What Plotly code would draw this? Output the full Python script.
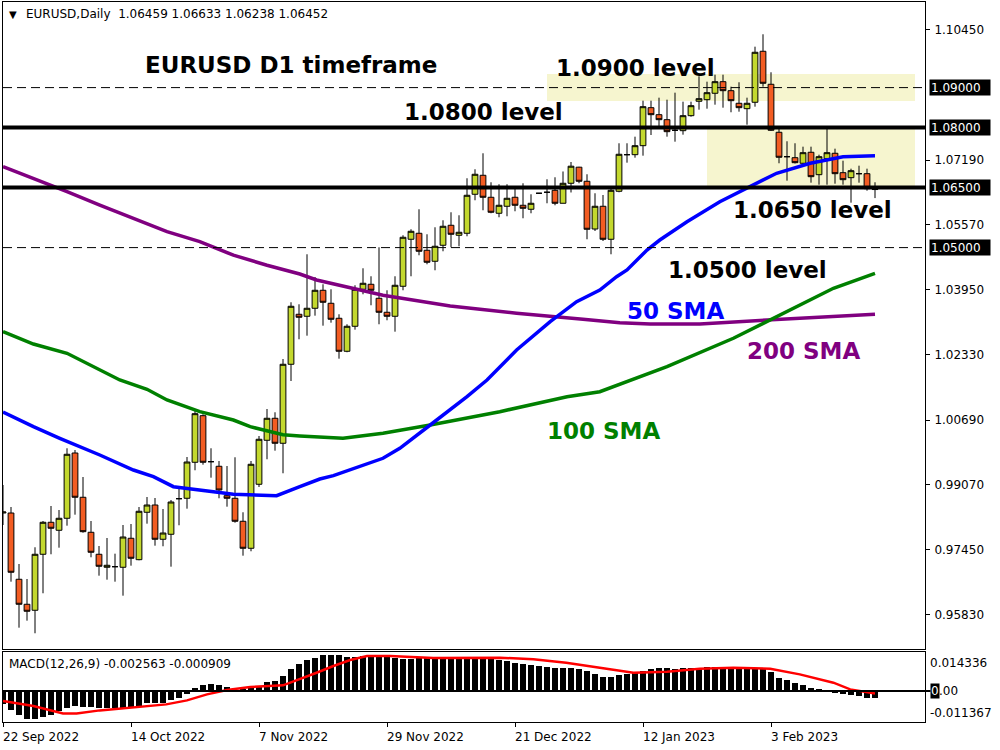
import plotly.graph_objects as go

# ---------------- data ----------------
tick_labels = ["22 Sep 2022", "14 Oct 2022", "7 Nov 2022", "29 Nov 2022",
               "21 Dec 2022", "12 Jan 2023", "3 Feb 2023"]
tick_bars = [0, 16, 32, 48, 64, 80, 96]
bars = list(range(110))

opens = [0.98365, 0.98365, 0.96708, 0.96083, 0.95933, 0.97333, 0.98133, 0.97933, 0.98233, 0.99865,
         0.98758, 0.97883, 0.97333, 0.97008, 0.97023, 0.97008, 0.97733, 0.97198, 0.98383, 0.98565,
         0.97708, 0.97833, 0.98723, 0.98733, 0.99633, 1.00798, 0.99648, 0.99533, 0.98798, 0.98733,
         0.98158, 0.97483, 0.99083, 1.00183, 1.00733, 1.00108, 1.02083, 1.03333, 1.03283, 1.03483,
         1.03933, 1.03608, 1.03233, 1.02408, 1.03033, 1.03958, 1.04083, 1.03733, 1.03383, 1.03283,
         1.04033, 1.05208, 1.05358, 1.04933, 1.04658, 1.05058, 1.05558, 1.05308, 1.05358, 1.06333,
         1.06808, 1.06258, 1.05858, 1.06033, 1.06258, 1.06058, 1.05958, 1.06358, 1.06383, 1.06433,
         1.06108, 1.06608, 1.07010, 1.06658, 1.05465, 1.06033, 1.05208, 1.06408, 1.07323, 1.07323,
         1.07548, 1.08498, 1.08323, 1.08198, 1.07933, 1.07923, 1.08298, 1.08658, 1.08698, 1.08858,
         1.09148, 1.08923, 1.08608, 1.08473, 1.08633, 1.09908, 1.09083, 1.07883, 1.07273, 1.07248,
         1.07108, 1.07383, 1.06823, 1.07223, 1.07358, 1.06873, 1.06748, 1.06848, 1.06848, 1.06459]
highs = [0.99065, 0.98515, 0.97090, 0.96715, 0.97508, 0.98165, 0.98540, 0.98440, 0.99983, 0.99940,
         0.99265, 0.98165, 0.97540, 0.97740, 0.97348, 0.98065, 0.98090, 0.98515, 0.98765, 0.98740,
         0.98465, 0.98690, 0.99015, 0.99765, 1.00940, 1.00833, 0.99983, 0.99665, 0.99540, 0.99758,
         0.98383, 0.99665, 1.00290, 1.00965, 1.00883, 1.02215, 1.03633, 1.03583, 1.04833, 1.04265,
         1.04083, 1.03958, 1.03333, 1.03083, 1.04058, 1.04483, 1.04283, 1.05008, 1.03933, 1.04283,
         1.05308, 1.05458, 1.05958, 1.05333, 1.05508, 1.05683, 1.05883, 1.05808, 1.06733, 1.06958,
         1.07358, 1.06633, 1.06583, 1.06583, 1.06508, 1.06608, 1.06333, 1.06365, 1.06708, 1.06758,
         1.06903, 1.07140, 1.07020, 1.06833, 1.06358, 1.06315, 1.06465, 1.07608, 1.07608, 1.07773,
         1.08673, 1.08673, 1.08748, 1.08698, 1.08873, 1.08648, 1.08648, 1.09283, 1.09148, 1.09323,
         1.09323, 1.09023, 1.09133, 1.08748, 1.10023, 1.10333, 1.09383, 1.07983, 1.07658, 1.07608,
         1.07523, 1.07523, 1.07323, 1.07983, 1.07473, 1.07173, 1.06973, 1.07048, 1.06973, 1.06633]
lows = [0.98065, 0.96648, 0.95498, 0.95673, 0.95358, 0.96358, 0.97333, 0.97498, 0.98048, 0.98323,
        0.97873, 0.97258, 0.96798, 0.96698, 0.96648, 0.96298, 0.97048, 0.97183, 0.98098, 0.97548,
        0.97533, 0.97023, 0.98058, 0.98473, 0.99433, 0.99573, 0.99248, 0.98733, 0.98523, 0.98123,
        0.97298, 0.97408, 0.99015, 0.99708, 0.99923, 0.99358, 1.01665, 1.02708, 1.02798, 1.03298,
        1.03048, 1.03123, 1.02223, 1.02383, 1.02948, 1.03833, 1.03558, 1.03083, 1.03183, 1.02898,
        1.03933, 1.04283, 1.04808, 1.04583, 1.04433, 1.04908, 1.05008, 1.05033, 1.05283, 1.06183,
        1.05933, 1.05858, 1.05758, 1.05783, 1.05908, 1.05733, 1.05858, 1.06350, 1.06108, 1.06058,
        1.06108, 1.06378, 1.06608, 1.05208, 1.05415, 1.05165, 1.04833, 1.06383, 1.07123, 1.07248,
        1.07298, 1.07815, 1.08023, 1.07773, 1.07648, 1.07823, 1.08273, 1.08448, 1.08473, 1.08573,
        1.08498, 1.08383, 1.08398, 1.08073, 1.08523, 1.09023, 1.07915, 1.07108, 1.06673, 1.07103,
        1.07040, 1.06623, 1.06573, 1.06573, 1.06598, 1.06573, 1.06123, 1.06623, 1.06423, 1.06238]
closes = [0.98390, 0.96883, 0.96083, 0.95908, 0.97333, 0.98133, 0.97983, 0.98233, 0.99833, 0.98758,
          0.97898, 0.97383, 0.97033, 0.97058, 0.97023, 0.97765, 0.97233, 0.98408, 0.98565, 0.97708,
          0.97865, 0.98640, 0.98723, 0.99640, 1.00848, 0.99633, 0.99648, 0.98940, 0.98733, 0.98158,
          0.97483, 0.99583, 1.00208, 1.00733, 1.00108, 1.02083, 1.03533, 1.03258, 1.03483, 1.03933,
          1.03633, 1.03208, 1.02408, 1.03033, 1.03958, 1.04108, 1.03933, 1.03383, 1.03283, 1.04058,
          1.05258, 1.05408, 1.04908, 1.04633, 1.05033, 1.05533, 1.05333, 1.05383, 1.06308, 1.06833,
          1.06258, 1.05883, 1.06058, 1.06233, 1.06058, 1.05983, 1.06108, 1.06358, 1.06383, 1.06108,
          1.06608, 1.07035, 1.06658, 1.05458, 1.06033, 1.05208, 1.06433, 1.07333, 1.07323, 1.07548,
          1.08523, 1.08323, 1.08198, 1.07898, 1.07933, 1.08298, 1.08548, 1.08723, 1.08873, 1.09148,
          1.08923, 1.08673, 1.08498, 1.08608, 1.09883, 1.09108, 1.07933, 1.07258, 1.07273, 1.07123,
          1.07373, 1.06773, 1.07273, 1.07373, 1.06848, 1.06698, 1.06923, 1.06848, 1.06473, 1.06452]

sma50_x = [0, 3.8, 7.1, 12.1, 16.3, 18.8, 21.3, 24.6, 28.8, 34.2, 35.9, 37.1, 39.6, 41.3, 47.5, 49.6,
           53.4, 58.0, 60.5, 64.2, 68.4, 71.7, 74.6, 76.7, 78.0, 80.5, 82.1, 85.5, 89.6, 93.8, 96.7,
           100.9, 105.0, 109.0]
sma50_y = [1.0089, 1.00523, 1.00233, 0.99815, 0.9944, 0.99273, 0.99023, 0.9894, 0.98833, 0.98798,
           0.9894, 0.99023, 0.99215, 0.99298, 0.99733, 0.99983, 1.00565, 1.01273, 1.0169, 1.0244,
           1.03148, 1.03648, 1.0394, 1.04273, 1.0444, 1.0494, 1.0519, 1.05648, 1.06148, 1.06565,
           1.06858, 1.07108, 1.07273, 1.07298]

sma100_x = [0, 3.8, 8.0, 12.1, 14.6, 18.0, 20.5, 24.6, 28.8, 30.9, 35.0, 37.1, 39.6, 42.5, 47.5,
            53.4, 62.1, 70.5, 74.6, 78.4, 83.0, 91.3, 95.5, 99.6, 103.8, 109.0]
sma100_y = [1.02898, 1.0259, 1.02358, 1.0194, 1.0169, 1.01458, 1.0119, 1.00898, 1.0069, 1.00523,
            1.0032, 1.0029, 1.00273, 1.00233, 1.00358, 1.00565, 1.00898, 1.01273, 1.01398, 1.0169,
            1.02023, 1.02733, 1.03148, 1.0356, 1.03983, 1.04358]

sma200_x = [0, 3.8, 8.0, 12.1, 16.3, 20.5, 24.6, 28.8, 33.0, 37.1, 39.2, 47.5, 55.9, 64.2, 72.5,
            77.1, 80.9, 87.1, 95.5, 103.8, 109.0]
sma200_y = [1.07023, 1.06733, 1.06398, 1.0606, 1.05733, 1.05398, 1.05148, 1.0481, 1.0456, 1.0434,
            1.0419, 1.0381, 1.0354, 1.03358, 1.03208, 1.03123, 1.0309, 1.0309, 1.0319, 1.0329, 1.03333]

macd_main = [-0.004896, -0.006977, -0.008935, -0.010159, -0.010159, -0.009547, -0.008935, -0.007222, -0.006365, -0.005508,
             -0.005753, -0.005998, -0.006242, -0.006242, -0.006242, -0.00612, -0.00612, -0.005508, -0.004529, -0.004284,
             -0.004284, -0.003305, -0.002448, -0.000979, 0.001224, 0.002081, 0.002448, 0.002203, 0.001591, 0.000367,
             0.000612, 0.001224, 0.001836, 0.003305, 0.003672, 0.005508, 0.007956, 0.009792, 0.011261, 0.01224,
             0.013097, 0.013219, 0.013219, 0.012485, 0.012485, 0.012852, 0.013097, 0.012852, 0.012485, 0.011995,
             0.011873, 0.011873, 0.011995, 0.011995, 0.011995, 0.011995, 0.011995, 0.011995, 0.011873, 0.011873,
             0.011873, 0.011628, 0.011383, 0.011016, 0.010404, 0.009914, 0.009547, 0.00918, 0.008813, 0.008568,
             0.008568, 0.008446, 0.007956, 0.007222, 0.006242, 0.005018, 0.005018, 0.005875, 0.006365, 0.006732,
             0.007466, 0.008201, 0.008568, 0.008323, 0.008201, 0.008323, 0.008568, 0.008568, 0.008813, 0.008935,
             0.008813, 0.008813, 0.008568, 0.008323, 0.008201, 0.008201, 0.007099, 0.004896, 0.003917, 0.002815,
             0.002081, 0.000979, 0.000612, 0.000245, -0.000367, -0.001224, -0.001469, -0.001836, -0.002448, -0.002563]

signal_x = [0, 3.8, 7.5, 9.2, 12.1, 16.3, 20.4, 23.0, 25.5, 28.0, 30.9, 35.0, 37.1, 39.2, 41.3, 43.4,
            45.5, 48.4, 53.8, 58.0, 62.1, 66.3, 70.4, 74.6, 78.8, 83.0, 87.1, 91.3, 95.9, 99.6, 103.8,
            105.9, 107.1, 109.0]
signal_y = [-0.003672, -0.005508, -0.008201, -0.008201, -0.007099, -0.00612, -0.004896, -0.003427,
            -0.001224, 0.000367, 0.001469, 0.002081, 0.004284, 0.006732, 0.00918, 0.011383, 0.012852,
            0.012852, 0.012118, 0.01224, 0.01224, 0.011628, 0.010404, 0.008568, 0.006732, 0.007099,
            0.008201, 0.008568, 0.008201, 0.00612, 0.00306, 0.000612, 0.0, -0.000909]

price_ticks = [1.1045, 1.0719, 1.0557, 1.0395, 1.0233, 1.0069, 0.9907, 0.9745, 0.9583]
key_levels = [1.09, 1.08, 1.065, 1.05]
header_ohlc = ["1.06459", "1.06633", "1.06238", "1.06452"]
macd_scale = [0.014336, -0.011367]

# ---------------- figure ----------------
BULL = "#c3d82e"
BEAR = "#f25c22"
FONT = "DejaVu Sans"

fig = go.Figure()
fig.add_trace(go.Candlestick(
    x=bars, open=opens, high=highs, low=lows, close=closes,
    increasing=dict(fillcolor=BULL, line=dict(color="black", width=1)),
    decreasing=dict(fillcolor=BEAR, line=dict(color="black", width=1)),
    whiskerwidth=0, xaxis="x", yaxis="y", hoverinfo="skip", showlegend=False))

for xs, ys, col in [(sma200_x, sma200_y, "#800080"),
                    (sma100_x, sma100_y, "#008000"),
                    (sma50_x, sma50_y, "#0000ff")]:
    fig.add_trace(go.Scatter(x=xs, y=ys, mode="lines", line=dict(color=col, width=3.5),
                             xaxis="x", yaxis="y", hoverinfo="skip", showlegend=False))

fig.add_trace(go.Bar(x=bars, y=macd_main, marker=dict(color="black", line=dict(width=0)),
                     width=0.8, xaxis="x2", yaxis="y2", hoverinfo="skip", showlegend=False))
fig.add_trace(go.Scatter(x=signal_x, y=signal_y, mode="lines", line=dict(color="#ff0000", width=2.5),
                         xaxis="x2", yaxis="y2", hoverinfo="skip", showlegend=False))

XR = [0, 115.25]
Y_MAIN = [0.94965, 1.1114]

shapes = [
    dict(type="rect", xref="x", yref="y", x0=68, x1=114, y0=1.08665, y1=1.0934,
         fillcolor="#f6f5cf", line=dict(width=0), layer="below"),
    dict(type="rect", xref="x", yref="y", x0=88, x1=114, y0=1.065, y1=1.08,
         fillcolor="#f6f5cf", line=dict(width=0), layer="below"),
]
for lvl in key_levels:
    thick = lvl in (1.08, 1.065)
    shapes.append(dict(type="line", xref="paper", yref="y", x0=0, x1=1, y0=lvl, y1=lvl,
                       line=dict(color="black", width=4 if thick else 1,
                                 dash="solid" if thick else "9px,5px"),
                       layer="above"))
shapes.append(dict(type="line", xref="paper", yref="y2", x0=0, x1=1.006, y0=0, y1=0,
                   line=dict(color="black", width=2), layer="above"))

ann = []
def txt(text, x, y, color="black", size=23, **kw):
    d = dict(text=text, x=x, y=y, xref="x", yref="y", showarrow=False,
             font=dict(family=FONT, size=size, color=color, weight="bold"),
             xanchor="center", yanchor="middle")
    d.update(kw)
    ann.append(d)

txt("EURUSD D1 timeframe", 36.0, 1.0956)
txt("1.0900 level", 79.1, 1.0950)
txt("1.0800 level", 60.1, 1.0838)
txt("1.0650 level", 101.2, 1.0594)
txt("1.0500 level", 93.1, 1.0443)
txt("50 SMA", 84.1, 1.0341, color="#0000ff")
txt("200 SMA", 100.1, 1.0241, color="#800080")
txt("100 SMA", 75.1, 1.0041, color="#008000")

# right-hand boxed level labels
for lvl in key_levels:
    ann.append(dict(text=f"{lvl:.5f}", x=1, y=lvl, xref="paper", yref="y", showarrow=False,
                    xanchor="left", yanchor="middle", xshift=4, bgcolor="black", borderpad=1,
                    width=58, height=13, align="left",
                    font=dict(family=FONT, size=12, color="white")))

# header texts
ann.append(dict(text="▼", x=0, y=1, xref="paper", yref="paper", xanchor="left", yanchor="middle",
                xshift=4, yshift=-12, showarrow=False, font=dict(family=FONT, size=10, color="black")))
ann.append(dict(text="EURUSD,Daily  " + " ".join(header_ohlc), x=0, y=1, xref="paper", yref="paper",
                xanchor="left", yanchor="middle", xshift=21, yshift=-12, showarrow=False,
                font=dict(family=FONT, size=12, color="black")))
ann.append(dict(text="MACD(12,26,9) -0.002563 -0.000909", x=0, y=0.0806, xref="paper", yref="paper",
                xanchor="left", yanchor="middle", xshift=4, showarrow=False,
                font=dict(family=FONT, size=12, color="black")))

# MACD scale labels
ann.append(dict(text=f"{macd_scale[0]:.6f}", x=1, y=0.0103, xref="paper", yref="y2", showarrow=False,
                xanchor="left", yanchor="middle", xshift=3, font=dict(family=FONT, size=12, color="black")))
ann.append(dict(text=f"{macd_scale[1]:.6f}", x=1, y=-0.0081, xref="paper", yref="y2", showarrow=False,
                xanchor="left", yanchor="middle", xshift=3, font=dict(family=FONT, size=12, color="black")))
ann.append(dict(text="0", x=1, y=0, xref="paper", yref="y2", showarrow=False, bgcolor="black",
                borderpad=0, xanchor="left", yanchor="middle", xshift=5,
                font=dict(family=FONT, size=12, color="white")))
ann.append(dict(text=".00", x=1, y=0, xref="paper", yref="y2", showarrow=False,
                xanchor="left", yanchor="middle", xshift=12, font=dict(family=FONT, size=12, color="black")))

# date labels
for b, lab in zip(tick_bars, tick_labels):
    ann.append(dict(text=lab, x=b, y=0, xref="x2", yref="paper", showarrow=False,
                    xanchor="left", yanchor="top", xshift=-2, yshift=-6,
                    font=dict(family=FONT, size=12, color="black")))

fig.update_layout(
    width=1000, height=750, margin=dict(l=3, r=75, t=2, b=28),
    paper_bgcolor="white", plot_bgcolor="white", showlegend=False,
    boxgap=0.28, boxgroupgap=0, bargap=0,
    xaxis=dict(domain=[0, 1], range=XR, anchor="y", showgrid=False, zeroline=False,
               showline=True, mirror=True, linecolor="black", linewidth=1,
               showticklabels=False, ticks="", rangeslider=dict(visible=False)),
    yaxis=dict(domain=[0.10139, 1], range=Y_MAIN, anchor="x", side="right", showgrid=False,
               zeroline=False, showline=True, mirror=True, linecolor="black", linewidth=1,
               ticks="outside", ticklen=4, tickcolor="black", tickvals=price_ticks,
               ticktext=[f"{v:.5f}" for v in price_ticks], ticklabelstandoff=2,
               tickfont=dict(family=FONT, size=12, color="black")),
    xaxis2=dict(domain=[0, 1], range=XR, anchor="y2", showgrid=False, zeroline=False,
                showline=True, mirror=True, linecolor="black", linewidth=1,
                ticks="outside", ticklen=4, tickcolor="black", tickvals=tick_bars,
                showticklabels=False),
    yaxis2=dict(domain=[0, 0.09722], range=[macd_scale[1], macd_scale[0]], anchor="x2",
                side="right", showgrid=False, zeroline=False, showline=True, mirror=True,
                linecolor="black", linewidth=1, showticklabels=False, ticks=""),
    shapes=shapes, annotations=ann,
)

fig.write_html("out.html", config={"displayModeBar": False},
               post_script="document.body.style.margin='0px';")
